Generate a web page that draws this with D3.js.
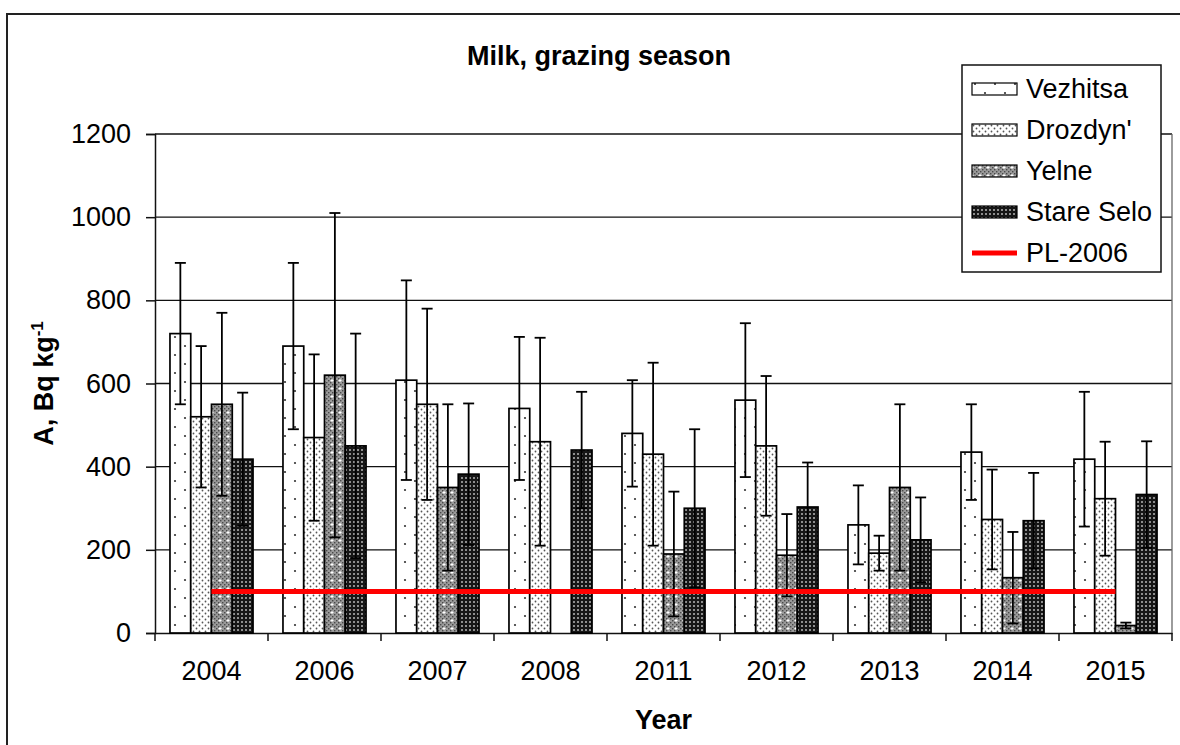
<!DOCTYPE html>
<html lang="en">

<head>
  <meta charset="UTF-8">
  <title>Milk, grazing season</title>
  <script src="https://d3js.org/d3.v7.min.js"></script>
  <style>
    body { margin: 0; background: #fff; }
    text { font-family: "Liberation Sans", Arial, sans-serif; fill: #000; }
  </style>
</head>

<body>
  <svg width="1180" height="745"></svg>
</body>

<script>
  const years = ["2004", "2006", "2007", "2008", "2011", "2012", "2013", "2014", "2015"];
  const seriesNames = ["Vezhitsa", "Drozdyn'", "Yelne", "Stare Selo"];

  // mean values, Bq/kg (null = no data)
  const vezhitsa = [720, 690, 608, 540, 480, 560, 260, 435, 418];
  const drozdyn = [520, 470, 550, 460, 430, 450, 192, 273, 323];
  const yelne = [550, 620, 350, null, 190, 187, 350, 133, 18];
  const stareSelo = [418, 450, 382, 440, 300, 303, 224, 270, 333];

  // error (+/-)
  const vezhitsaErr = [170, 200, 240, 172, 128, 185, 95, 115, 162];
  const drozdynErr = [170, 200, 230, 250, 220, 168, 42, 120, 137];
  const yelneErr = [220, 390, 200, null, 150, 99, 200, 110, 7];
  const stareSeloErr = [160, 270, 170, 140, 190, 107, 102, 115, 128];

  const plLevel = 100;
  const plLabel = "PL-2006";
  const yTicks = [0, 200, 400, 600, 800, 1000, 1200];

  const seriesVals = [vezhitsa, drozdyn, yelne, stareSelo];
  const seriesErr = [vezhitsaErr, drozdynErr, yelneErr, stareSeloErr];

  const svg = d3.select("svg");
  const plot = { left: 155, right: 1172, top: 134, bottom: 633 };
  const fontSize = "27px";

  /**
   * patterns
   */
  const defs = svg.append("defs");

  const pVez = defs.append("pattern").attr("id", "pat0")
    .attr("patternUnits", "userSpaceOnUse").attr("width", 20).attr("height", 18);
  pVez.append("rect").attr("width", 20).attr("height", 18).attr("fill", "#fff");
  pVez.append("circle").attr("cx", 5).attr("cy", 4).attr("r", 1.1).attr("fill", "#333");
  pVez.append("circle").attr("cx", 15).attr("cy", 13).attr("r", 1.1).attr("fill", "#333");

  const pDro = defs.append("pattern").attr("id", "pat1")
    .attr("patternUnits", "userSpaceOnUse").attr("width", 6).attr("height", 6);
  pDro.append("rect").attr("width", 6).attr("height", 6).attr("fill", "#fff");
  pDro.append("circle").attr("cx", 1.5).attr("cy", 1.5).attr("r", 0.9).attr("fill", "#555");
  pDro.append("circle").attr("cx", 4.5).attr("cy", 4.5).attr("r", 0.9).attr("fill", "#555");

  const pYel = defs.append("pattern").attr("id", "pat2")
    .attr("patternUnits", "userSpaceOnUse").attr("width", 8).attr("height", 8);
  pYel.append("rect").attr("width", 8).attr("height", 8).attr("fill", "#9a9a9a");
  [[0, 0], [4, 0], [2, 2], [6, 2], [0, 4], [2, 6], [6, 6]].forEach(p => {
    pYel.append("rect").attr("x", p[0]).attr("y", p[1]).attr("width", 1.4).attr("height", 1.4).attr("fill", "#4a4a4a");
  });
  pYel.append("path").attr("d", "M4,3V6M2.5,4.5H5.5").attr("stroke", "#fff").attr("stroke-width", 1);

  const pSta = defs.append("pattern").attr("id", "pat3")
    .attr("patternUnits", "userSpaceOnUse").attr("width", 4).attr("height", 4);
  pSta.append("rect").attr("width", 4).attr("height", 4).attr("fill", "#161616");
  pSta.append("rect").attr("x", 1.2).attr("y", 1.2).attr("width", 1.6).attr("height", 1.6).attr("fill", "#d0d0d0");

  /**
   * outer frame
   */
  svg.append("rect")
    .attr("x", 7).attr("y", 14)
    .attr("width", 1200).attr("height", 800)
    .attr("fill", "none").attr("stroke", "#222").attr("stroke-width", 2);

  /**
   * scales
   */
  const gap = 0.265;
  const x0 = d3.scaleBand()
    .domain(years)
    .range([plot.left, plot.right])
    .paddingInner(gap)
    .paddingOuter(gap / 2);

  const x1 = d3.scaleBand()
    .domain(d3.range(seriesNames.length))
    .range([0, x0.bandwidth()]);

  const yScale = d3.scaleLinear()
    .domain([0, 1200])
    .range([plot.bottom, plot.top]);

  /**
   * grid + axes
   */
  svg.append("g")
    .selectAll("line")
    .data(yTicks.filter(d => d > 0))
    .join("line")
    .attr("x1", plot.left).attr("x2", plot.right)
    .attr("y1", d => yScale(d)).attr("y2", d => yScale(d))
    .attr("stroke", "#111").attr("stroke-width", 1.4);

  svg.append("line")
    .attr("x1", plot.right).attr("x2", plot.right)
    .attr("y1", plot.top).attr("y2", plot.bottom)
    .attr("stroke", "#666").attr("stroke-width", 1.3);

  const yAxis = svg.append("g")
    .attr("transform", "translate(" + plot.left + ",0)")
    .call(d3.axisLeft(yScale).tickValues(yTicks).tickFormat(d3.format("d")).tickSize(9).tickPadding(15));
  yAxis.selectAll("path, line").attr("stroke", "#111").attr("stroke-width", 1.5);
  yAxis.selectAll("text").attr("font-size", fontSize).attr("font-family", "Liberation Sans, Arial, sans-serif");

  const xAxis = svg.append("g")
    .attr("transform", "translate(0," + plot.bottom + ")")
    .call(d3.axisBottom(x0).tickSize(0).tickPadding(28));
  xAxis.select(".domain").attr("stroke", "#111").attr("stroke-width", 1.5);
  xAxis.selectAll("text").attr("font-size", fontSize).attr("font-family", "Liberation Sans, Arial, sans-serif");

  // category boundary ticks
  const bounds = years.map(d => x0(d) - x0.step() * gap / 2).concat([plot.right]);
  svg.append("g")
    .selectAll("line")
    .data(bounds)
    .join("line")
    .attr("x1", d => d).attr("x2", d => d)
    .attr("y1", plot.bottom).attr("y2", plot.bottom + 8)
    .attr("stroke", "#111").attr("stroke-width", 1.5);

  /**
   * bars
   */
  const barData = [];
  seriesVals.forEach((vals, s) => {
    vals.forEach((v, i) => {
      if (v !== null) barData.push({ s: s, year: years[i], v: v, e: seriesErr[s][i] });
    });
  });

  svg.append("g")
    .selectAll("rect")
    .data(barData)
    .join("rect")
    .attr("x", d => x0(d.year) + x1(d.s))
    .attr("y", d => yScale(d.v))
    .attr("width", x1.bandwidth())
    .attr("height", d => yScale(0) - yScale(d.v))
    .attr("fill", d => "url(#pat" + d.s + ")")
    .attr("stroke", "#000")
    .attr("stroke-width", 1.7);

  /**
   * error bars
   */
  const err = svg.append("g")
    .selectAll("g")
    .data(barData)
    .join("g")
    .attr("transform", d => "translate(" + (x0(d.year) + x1(d.s) + x1.bandwidth() / 2) + ",0)")
    .attr("stroke", "#000")
    .attr("stroke-width", 1.8);
  err.append("line")
    .attr("y1", d => yScale(d.v + d.e))
    .attr("y2", d => yScale(Math.max(0, d.v - d.e)));
  err.append("line")
    .attr("x1", -5.5).attr("x2", 5.5)
    .attr("y1", d => yScale(d.v + d.e)).attr("y2", d => yScale(d.v + d.e));
  err.append("line")
    .attr("x1", -5.5).attr("x2", 5.5)
    .attr("y1", d => yScale(Math.max(0, d.v - d.e))).attr("y2", d => yScale(Math.max(0, d.v - d.e)));

  /**
   * permissible level line
   */
  const xCenter = d => x0(d) + x0.bandwidth() / 2;
  svg.append("line")
    .attr("x1", xCenter(years[0]))
    .attr("x2", xCenter(years[years.length - 1]))
    .attr("y1", yScale(plLevel)).attr("y2", yScale(plLevel))
    .attr("stroke", "#ff0000").attr("stroke-width", 5);

  /**
   * titles
   */
  svg.append("text")
    .attr("x", 599).attr("y", 65)
    .attr("text-anchor", "middle")
    .attr("font-size", fontSize).attr("font-weight", "bold")
    .text("Milk, grazing season");

  svg.append("text")
    .attr("x", (plot.left + plot.right) / 2).attr("y", 729)
    .attr("text-anchor", "middle")
    .attr("font-size", fontSize).attr("font-weight", "bold")
    .text("Year");

  const yTitle = svg.append("text")
    .attr("transform", "translate(53," + (plot.top + plot.bottom) / 2 + ") rotate(-90)")
    .attr("text-anchor", "middle")
    .attr("font-size", fontSize).attr("font-weight", "bold");
  yTitle.append("tspan").text("A, Bq kg");
  yTitle.append("tspan").attr("dy", -10).attr("font-size", "17px").text("-1");

  /**
   * legend
   */
  const legend = svg.append("g");
  legend.append("rect")
    .attr("x", 962).attr("y", 65)
    .attr("width", 199).attr("height", 207)
    .attr("fill", "#fff").attr("stroke", "#111").attr("stroke-width", 1.5);

  const legendItems = seriesNames.map((n, i) => ({ name: n, s: i })).concat([{ name: plLabel, s: -1 }]);
  const rows = legend.selectAll("g.row")
    .data(legendItems)
    .join("g")
    .attr("class", "row")
    .attr("transform", (d, i) => "translate(0," + (89 + i * 41) + ")");

  rows.filter(d => d.s >= 0).append("rect")
    .attr("x", 972).attr("y", -6)
    .attr("width", 45).attr("height", 12)
    .attr("fill", d => "url(#pat" + d.s + ")")
    .attr("stroke", "#000").attr("stroke-width", 1.2);

  rows.filter(d => d.s < 0).append("line")
    .attr("x1", 972).attr("x2", 1017)
    .attr("stroke", "#ff0000").attr("stroke-width", 5);

  rows.append("text")
    .attr("x", 1026).attr("y", 9)
    .attr("font-size", fontSize)
    .text(d => d.name);
</script>

</html>
